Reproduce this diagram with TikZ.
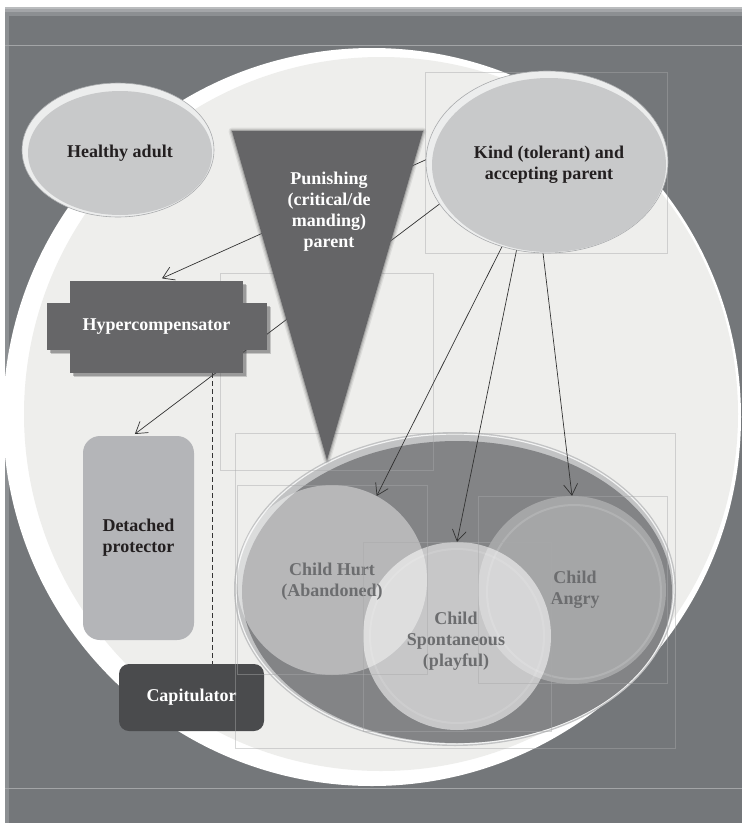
\documentclass[tikz,border=0pt]{standalone}
\usepackage{fontspec}
\setmainfont{Liberation Serif}
\usetikzlibrary{shapes.geometric,arrows.meta,calc}
\pgfdeclarelayer{base}
\pgfdeclarelayer{links}
\pgfsetlayers{base,links,main}

\definecolor{framegray}{HTML}{74777A}
\definecolor{framelight}{HTML}{8C8F92}
\definecolor{frameline}{HTML}{A3A5A7}
\definecolor{circfill}{HTML}{EEEEEC}
\definecolor{ovalgray}{HTML}{C8C9CA}
\definecolor{rimlight}{HTML}{ECEDED}
\definecolor{rimline}{HTML}{A9ABAD}
\definecolor{trigray}{HTML}{656567}
\definecolor{hypergray}{HTML}{666668}
\definecolor{shadowgray}{HTML}{4C4C4E}
\definecolor{detgray}{HTML}{B4B5B8}
\definecolor{capgray}{HTML}{4A4B4D}
\definecolor{kidgray}{HTML}{838486}
\definecolor{kidrim}{HTML}{C2C3C4}
\definecolor{childtxt}{HTML}{6C6D6F}
\definecolor{darktxt}{HTML}{231F20}
\definecolor{linkgray}{HTML}{333333}
\definecolor{guidegray}{HTML}{A8A9AA}

\begin{document}
\begin{tikzpicture}[x=1pt,y=-1pt,
  txt/.style={font=\fontsize{18}{21}\selectfont\bfseries, align=center, inner sep=0pt},
  oval/.style={ellipse, inner sep=0pt, fill=ovalgray, txt, text=darktxt},
  childdisc/.style={circle, inner sep=0pt, fill=white},
  childtext/.style={txt, text=childtxt},
  link/.style={draw=linkgray, line width=0.7pt, -{Straight Barb[length=11pt,width=14pt]}},
  dashlink/.style={draw=linkgray, line width=0.8pt, dash pattern=on 5pt off 3pt},
  guide/.style={draw=guidegray, line width=0.4pt, opacity=0.45},
]
\useasboundingbox (0,0) rectangle (742,823);

% ---------- background frame, big disc and the child group ----------
\begin{pgfonlayer}{base}
  \fill[white] (0,0) rectangle (742,823);
  \fill[framegray] (5,7) rectangle (742,823);
  \fill[framelight!60!white] (5,7) rectangle (742,9);
  \fill[framelight!80!white] (5,9) rectangle (742,12);
  \fill[framelight] (5,12) rectangle (742,16);
  \fill[framelight] (5,16) rectangle (9,823);
  \draw[frameline, line width=0.6pt] (5,45) -- (742,45);
  \draw[frameline, line width=0.6pt] (5,788) -- (742,788);

  % large light disc with a bright rim
  \fill[white] (372,417) circle[radius=369pt];
  \fill[circfill] (381,414) circle[radius=357pt];

  % glossy group ellipse holding the child modes
  \fill[kidrim] (455,589) ellipse[x radius=221pt, y radius=157pt];
  \draw[white, line width=1.2pt, opacity=0.8] (455,589) ellipse[x radius=219pt, y radius=155pt];
  \node[ellipse, inner sep=0pt, fill=kidgray, minimum width=430pt, minimum height=302pt] (kids) at (457,592) {};

  % three overlapping translucent child discs
  \node[childdisc, fill opacity=0.42, minimum size=190pt] (hurt) at (332,580) {};
  \node[childdisc, fill opacity=0.55, minimum size=188pt] (spont) at (457,636) {};
  \draw[white, line width=2pt, opacity=0.12] (457,636) circle[radius=87pt];
  \node[childdisc, fill opacity=0.28, minimum size=188pt] (angry) at (572,590) {};
  \draw[white, line width=2pt, opacity=0.14] (574,592) circle[radius=87pt];
  \node[childtext] (hurtlabel) at (332,582) {Child Hurt\\(Abandoned)};
  \node[childtext] (spontlabel) at (456,641) {Child\\Spontaneous\\(playful)};
  \node[childtext] (angrylabel) at (575,590) {Child\\Angry};

  % coping modes on the left
  \node[rectangle, rounded corners=17pt, fill=detgray, minimum width=111pt, minimum height=204pt, txt, text=darktxt] (detached) at (138.5,538) {Detached\\protector};
  \node[rectangle, rounded corners=10pt, fill=capgray, minimum width=145pt, minimum height=67pt, txt, text=white] (capit) at (191.5,697.5) {Capitulator};
\end{pgfonlayer}

% ---------- punishing parent triangle ----------
\foreach \w/\o in {7/0.12,4.5/0.2,2/0.35}
  \draw[trigray, line width=\w pt, opacity=\o, line join=round] (232,131) -- (423,131) -- (327,460) -- cycle;
\fill[trigray] (232,131) -- (423,131) -- (327,460) -- cycle;
\node[txt, text=white] (punish) at (329,212) {Punishing\\(critical/de\\manding)\\parent};

% ---------- hypercompensator cross ----------
\foreach \d/\o in {4/0.25,2.5/0.35}{
  \fill[shadowgray, opacity=\o] (70+\d,281+\d) rectangle (243+\d,373+\d);
  \fill[shadowgray, opacity=\o] (47+\d,303+\d) rectangle (267+\d,350+\d);
}
\fill[hypergray] (47,303) rectangle (267,350);
\node[rectangle, fill=hypergray, minimum width=173pt, minimum height=92pt, txt, text=white] (hyper) at (156.5,327) {Hypercompensator};

% ---------- healthy adult and kind parent ovals ----------
\fill[rimlight] (118,150) ellipse[x radius=96pt, y radius=67pt];
\draw[rimline, line width=0.6pt] (118,150) ellipse[x radius=96pt, y radius=67pt];
\node[oval, minimum width=184pt, minimum height=124pt] (healthy) at (120,153) {Healthy adult};

\fill[rimlight] (547,162) ellipse[x radius=121pt, y radius=91pt];
\draw[rimline, line width=0.6pt] (547,162) ellipse[x radius=121pt, y radius=91pt];
\node[oval, minimum width=234pt, minimum height=174pt] (kind) at (549,165) {Kind (tolerant) and\\accepting parent};

% ---------- text-box outlines and connectors ----------
\begin{pgfonlayer}{links}
  \draw[guide] (425,72) rectangle (667,253);
  \draw[guide] (220,273) rectangle (433,470);
  \draw[guide] (235,433) rectangle (675,748);
  \draw[guide] (237,485) rectangle (427,674);
  \draw[guide] (363,542) rectangle (551,731);
  \draw[guide] (478,496) rectangle (667,683);

  \draw[link, shorten >=6pt] (kind.176) -- (hyper.north);
  \draw[link, shorten >=3pt] (kind.199) -- ($(detached.north)+(-6,0)$);
  \draw[link] (kind.240) -- (hurt.62);
  \draw[link] (kind.249) -- (spont.north);
  \draw[link] (kind.266) -- (angry.north);
  \draw[dashlink] ($(hyper.south)+(55.5,0)$) -- ($(capit.north)+(20.5,0)$);
\end{pgfonlayer}
\end{tikzpicture}
\end{document}
